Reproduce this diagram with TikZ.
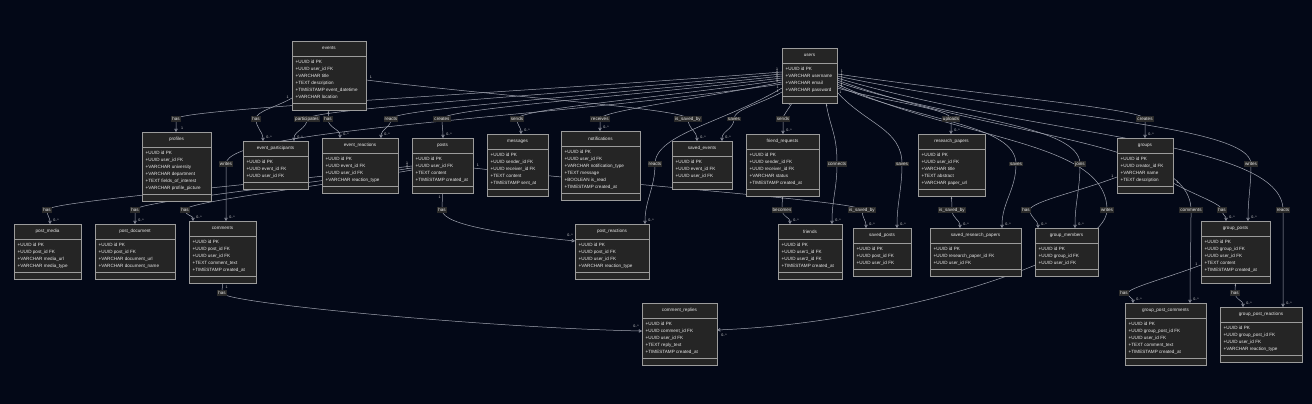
\documentclass[tikz,border=0pt]{standalone}
\usepackage{fontspec}
\setmainfont{Liberation Sans}
\usetikzlibrary{arrows.meta,calc}
\pgfdeclarelayer{bglayer}
\pgfdeclarelayer{edgelayer}
\pgfsetlayers{bglayer,edgelayer,main}
\definecolor{bgcol}{HTML}{030817}
\definecolor{boxfill}{HTML}{252525}
\definecolor{boxline}{HTML}{9C9C9C}
\definecolor{edgecol}{HTML}{A2A6B2}
\definecolor{txt}{HTML}{E8E8E8}
\definecolor{lblfill}{HTML}{2A2A2A}
\definecolor{cardcol}{HTML}{D0D0D0}
\tikzset{
  entbox/.style={draw=boxline, fill=boxfill, line width=0.7pt, inner sep=0pt, outer sep=0pt},
  sepline/.style={draw=boxline, line width=0.7pt},
  etitle/.style={text=txt, font=\fontsize{4.6}{5.5}\selectfont, inner sep=0pt},
  erow/.style={text=txt, font=\fontsize{4.6}{5.5}\selectfont, inner sep=0pt},
  edge/.style={draw=edgecol, line width=0.5pt, -{Triangle[open, length=3.2pt, width=3.4pt]}},
  lbl/.style={fill=lblfill, text=txt, font=\fontsize{4.6}{5.5}\selectfont, inner sep=1pt},
  card/.style={text=cardcol, font=\fontsize{3.6}{4}\selectfont, inner sep=0pt},
}
% #1 name, #2 x1, #3 top, #4 x2, #5 rows count, #6 title, #7 rows
\newcommand\mkent[7]{%
  \pgfmathsetmacro\entW{#4-#2}%
  \pgfmathsetmacro\entH{27+7*#5}%
  \node[entbox, minimum width=\entW pt, minimum height=\entH pt, anchor=north west] (#1) at (#2,#3) {};
  \draw[sepline] ([yshift=-15pt]#1.north west) -- ([yshift=-15pt]#1.north east);
  \draw[sepline] ([yshift=7pt]#1.south west) -- ([yshift=7pt]#1.south east);
  \node[etitle] (#1-title) at ([yshift=-7.5pt]#1.north) {#6};
  \foreach \r [count=\i from 0] in {#7} {
    \node[erow, anchor=base west] (#1-row\i) at ([xshift=3.5pt,yshift={-(22.2+7*\i)*1pt}]#1.north west) {\r};
  }
}
% #1 id, #2 start, #3 target, #4 bend, #5 target card
\newcommand\edgeV[5]{%
  \draw[edge] #2 .. controls ($#2!0.45!(l#1)$) and ($(l#1)+(0,#4)$) .. (l#1) to[out=270,in=90] #3;
  \node[card] (cs#1) at ($#2!5pt!(l#1)+(0,3)$) {1};
  \node[card] (ct#1) at ($#3+(6,4)$) {#5};
}
\begin{document}
\begin{tikzpicture}[x=1pt,y=1pt]
\useasboundingbox (0,0) rectangle (1312,404);
\begin{pgfonlayer}{bglayer}
\fill[bgcol] (0,0) rectangle (1312,404);
\end{pgfonlayer}

\mkent{events}{292}{363}{366}{6}{events}{+UUID id PK,+UUID user\_id FK,+VARCHAR title,+TEXT description,+TIMESTAMP event\_datetime,+VARCHAR location}
\mkent{users}{782}{356}{837}{4}{users}{+UUID id PK,+VARCHAR username,+VARCHAR email,+VARCHAR password}
\mkent{profiles}{142}{272}{211}{6}{profiles}{+UUID id PK,+UUID user\_id FK,+VARCHAR university,+VARCHAR department,+TEXT fields\_of\_interest,+VARCHAR profile\_picture}
\mkent{eventpart}{243}{263}{308}{3}{event\_participants}{+UUID id PK,+UUID event\_id FK,+UUID user\_id FK}
\mkent{eventreact}{322}{266}{398}{4}{event\_reactions}{+UUID id PK,+UUID event\_id FK,+UUID user\_id FK,+VARCHAR reaction\_type}
\mkent{posts}{412}{266}{473}{4}{posts}{+UUID id PK,+UUID user\_id FK,+TEXT content,+TIMESTAMP created\_at}
\mkent{messages}{487}{270}{548}{5}{messages}{+UUID id PK,+UUID sender\_id FK,+UUID receiver\_id FK,+TEXT content,+TIMESTAMP sent\_at}
\mkent{notif}{561}{273}{640}{6}{notifications}{+UUID id PK,+UUID user\_id FK,+VARCHAR notification\_type,+TEXT message,+BOOLEAN is\_read,+TIMESTAMP created\_at}
\mkent{savedevents}{672}{263}{732}{3}{saved\_events}{+UUID id PK,+UUID event\_id FK,+UUID user\_id FK}
\mkent{friendreq}{746}{270}{819}{5}{friend\_requests}{+UUID id PK,+UUID sender\_id FK,+UUID receiver\_id FK,+VARCHAR status,+TIMESTAMP created\_at}
\mkent{research}{918}{270}{985}{5}{research\_papers}{+UUID id PK,+UUID user\_id FK,+VARCHAR title,+TEXT abstract,+VARCHAR paper\_url}
\mkent{groups}{1117}{266}{1173}{4}{groups}{+UUID id PK,+UUID creator\_id FK,+VARCHAR name,+TEXT description}
\mkent{postmedia}{14}{180}{81}{4}{post\_media}{+UUID id PK,+UUID post\_id FK,+VARCHAR media\_url,+VARCHAR media\_type}
\mkent{postdoc}{95}{180}{175}{4}{post\_document}{+UUID id PK,+UUID post\_id FK,+VARCHAR document\_url,+VARCHAR document\_name}
\mkent{comments}{189}{183}{256}{5}{comments}{+UUID id PK,+UUID post\_id FK,+UUID user\_id FK,+TEXT comment\_text,+TIMESTAMP created\_at}
\mkent{postreact}{575}{180}{649}{4}{post\_reactions}{+UUID id PK,+UUID post\_id FK,+UUID user\_id FK,+VARCHAR reaction\_type}
\mkent{friends}{778}{180}{842}{4}{friends}{+UUID id PK,+UUID user1\_id FK,+UUID user2\_id FK,+TIMESTAMP created\_at}
\mkent{savedposts}{853}{176}{911}{3}{saved\_posts}{+UUID id PK,+UUID post\_id FK,+UUID user\_id FK}
\mkent{savedrp}{930}{176}{1021}{3}{saved\_research\_papers}{+UUID id PK,+UUID research\_paper\_id FK,+UUID user\_id FK}
\mkent{groupmem}{1035}{176}{1098}{3}{group\_members}{+UUID id PK,+UUID group\_id FK,+UUID user\_id FK}
\mkent{groupposts}{1201}{183}{1270}{5}{group\_posts}{+UUID id PK,+UUID group\_id FK,+UUID user\_id FK,+TEXT content,+TIMESTAMP created\_at}
\mkent{commentrep}{642}{101}{717}{5}{comment\_replies}{+UUID id PK,+UUID comment\_id FK,+UUID user\_id FK,+TEXT reply\_text,+TIMESTAMP created\_at}
\mkent{gpcomm}{1125}{101}{1206}{5}{group\_post\_comments}{+UUID id PK,+UUID group\_post\_id FK,+UUID user\_id FK,+TEXT comment\_text,+TIMESTAMP created\_at}
\mkent{gpreact}{1220}{97}{1302}{4}{group\_post\_reactions}{+UUID id PK,+UUID group\_post\_id FK,+UUID user\_id FK,+VARCHAR reaction\_type}

% label points
\coordinate (l1) at (176,285);
\coordinate (l2) at (256,285);
\coordinate (l3) at (307,285);
\coordinate (l4) at (328,285);
\coordinate (l5) at (391,285);
\coordinate (l6) at (442,285);
\coordinate (l7) at (517,285);
\coordinate (l8) at (600,285);
\coordinate (l9) at (688,285);
\coordinate (l10) at (734,285);
\coordinate (l11) at (783,285);
\coordinate (l12) at (951,285);
\coordinate (l13) at (1145,285);
\coordinate (l14) at (226,240);
\coordinate (l15) at (655,240);
\coordinate (l16) at (837,240);
\coordinate (l17) at (902,240);
\coordinate (l18) at (1016,240);
\coordinate (l19) at (1080,240);
\coordinate (l20) at (1251,240);
\coordinate (l21) at (47,194);
\coordinate (l22) at (135,194);
\coordinate (l23) at (185,194);
\coordinate (l24) at (442,194);
\coordinate (l25) at (782,194);
\coordinate (l26) at (862,194);
\coordinate (l27) at (952,194);
\coordinate (l28) at (1030,194);
\coordinate (l29) at (1107,194);
\coordinate (l30) at (1191,194);
\coordinate (l31) at (1222,194);
\coordinate (l32) at (1283,194);
\coordinate (l33) at (222,111);
\coordinate (l34) at (1128,111);
\coordinate (l35) at (1235,111);

\begin{pgfonlayer}{edgelayer}
\edgeV{1}{([yshift=3.5pt]users.west)}{([xshift=-0.5pt]profiles.north)}{10}{1}
\edgeV{3}{([yshift=1.5pt]users.west)}{([xshift=18.5pt]eventpart.north)}{10}{0..*}
\edgeV{5}{([yshift=-0.5pt]users.west)}{([xshift=21pt]eventreact.north)}{10}{0..*}
\edgeV{6}{([yshift=-2.5pt]users.west)}{([xshift=0.5pt]posts.north)}{10}{0..*}
\edgeV{7}{([yshift=-4.5pt]users.west)}{([xshift=3.5pt]messages.north)}{10}{0..*}
\edgeV{8}{([yshift=-6.5pt]users.west)}{([xshift=-0.5pt]notif.north)}{8}{0..*}
\edgeV{14}{([yshift=-8.5pt]users.west)}{([xshift=3.5pt]comments.north)}{35}{0..*}
\edgeV{15}{([yshift=-12.5pt]users.west)}{([xshift=33pt]postreact.north)}{30}{0..*}
\edgeV{10}{([yshift=-16.5pt]users.west)}{([xshift=20pt]savedevents.north)}{10}{0..*}
\edgeV{11}{([xshift=10pt]users.south west)}{([xshift=0.5pt]friendreq.north)}{4}{0..*}
\edgeV{13}{([yshift=1.5pt]users.east)}{(groups.north)}{10}{0..*}
\edgeV{20}{([yshift=-0.5pt]users.east)}{([xshift=12.5pt]groupposts.north)}{40}{0..*}
\edgeV{32}{([yshift=-2.5pt]users.east)}{([xshift=22pt]gpreact.north)}{70}{0..*}
\edgeV{30}{([yshift=-4.5pt]users.east)}{([xshift=24.5pt]gpcomm.north)}{70}{0..*}
\edgeV{19}{([yshift=-6.5pt]users.east)}{([xshift=8.5pt]groupmem.north)}{40}{0..*}
\edgeV{18}{([yshift=-10.5pt]users.east)}{([xshift=26.5pt]savedrp.north)}{40}{0..*}
\edgeV{12}{([yshift=-12.5pt]users.east)}{([xshift=-0.5pt]research.north)}{10}{0..*}
\edgeV{17}{([yshift=-16.5pt]users.east)}{([xshift=15pt]savedposts.north)}{35}{0..*}
\edgeV{16}{([xshift=-11pt]users.south east)}{([xshift=22pt]friends.north)}{30}{0..*}
\edgeV{2}{([yshift=-22.5pt]events.west)}{([xshift=-12.5pt]eventpart.north)}{8}{0..*}
\edgeV{4}{(events.south)}{([xshift=-20pt]eventreact.north)}{4}{0..*}
\edgeV{9}{([yshift=-4.5pt]events.east)}{([xshift=-5pt]savedevents.north)}{10}{0..*}
\edgeV{21}{([yshift=-0.5pt]posts.west)}{([xshift=2.5pt]postmedia.north)}{8}{0..*}
\edgeV{22}{([yshift=-2.5pt]posts.west)}{(postdoc.north)}{8}{0..*}
\edgeV{23}{([yshift=-4.5pt]posts.west)}{([xshift=-29.5pt]comments.north)}{8}{0..*}
\edgeV{26}{([yshift=-2.5pt]posts.east)}{([xshift=-16pt]savedposts.north)}{8}{0..*}
\edgeV{25}{(friendreq.south)}{([xshift=-20pt]friends.north)}{4}{0..*}
\edgeV{27}{(research.south)}{([xshift=-15.5pt]savedrp.north)}{4}{0..*}
\edgeV{28}{([yshift=-11.5pt]groups.west)}{([xshift=-28.5pt]groupmem.north)}{8}{0..*}
\edgeV{31}{([yshift=-17.5pt]groups.east)}{([xshift=-9.5pt]groupposts.north)}{6}{0..*}
\edgeV{34}{([yshift=-13pt]groupposts.west)}{([xshift=-32.5pt]gpcomm.north)}{5}{0..*}
\edgeV{35}{(groupposts.south)}{([xshift=-18pt]gpreact.north)}{4}{0..*}
% special routes
\draw[edge] (posts.south) -- (l24) .. controls ($(l24)+(0,-16)$) and ($([yshift=10.5pt]postreact.west)+(-60,6)$) .. ([yshift=10.5pt]postreact.west);
\node[card] (cs24) at ($(posts.south)+(-3,-4)$) {1};
\node[card] (ct24) at ($([yshift=10.5pt]postreact.west)+(-5,6)$) {0..*};
\draw[edge] ([yshift=-8.5pt]users.east) .. controls ($([yshift=-8.5pt]users.east)!0.45!(l29)$) and ($(l29)+(0,70)$) .. (l29) .. controls ($(l29)+(0,-45)$) and ($([yshift=4pt]commentrep.east)+(190,8)$) .. ([yshift=4pt]commentrep.east);
\node[card] (cs29) at ($([yshift=-8.5pt]users.east)!5pt!(l29)+(0,3)$) {1};
\node[card] (ct29) at ($([yshift=4pt]commentrep.east)+(7,-5)$) {0..*};
\draw[edge] (comments.south) -- (l33) .. controls ($(l33)+(0,-10)$) and ($([yshift=3pt]commentrep.west)+(-150,3)$) .. ([yshift=3pt]commentrep.west);
\node[card] (cs33) at ($(comments.south)+(4,-4)$) {1};
\node[card] (ct33) at ($([yshift=3pt]commentrep.west)+(-6,5)$) {0..*};
\end{pgfonlayer}

% relationship labels
\node[lbl] (lab1) at (l1) {has};
\node[lbl] (lab2) at (l2) {has};
\node[lbl] (lab3) at (l3) {participates};
\node[lbl] (lab4) at (l4) {has};
\node[lbl] (lab5) at (l5) {reacts};
\node[lbl] (lab6) at (l6) {creates};
\node[lbl] (lab7) at (l7) {sends};
\node[lbl] (lab8) at (l8) {receives};
\node[lbl] (lab9) at (l9) {is\_saved\_by};
\node[lbl] (lab10) at (l10) {saves};
\node[lbl] (lab11) at (l11) {sends};
\node[lbl] (lab12) at (l12) {uploads};
\node[lbl] (lab13) at (l13) {creates};
\node[lbl] (lab14) at (l14) {writes};
\node[lbl] (lab15) at (l15) {reacts};
\node[lbl] (lab16) at (l16) {connects};
\node[lbl] (lab17) at (l17) {saves};
\node[lbl] (lab18) at (l18) {saves};
\node[lbl] (lab19) at (l19) {joins};
\node[lbl] (lab20) at (l20) {writes};
\node[lbl] (lab21) at (l21) {has};
\node[lbl] (lab22) at (l22) {has};
\node[lbl] (lab23) at (l23) {has};
\node[lbl] (lab24) at (l24) {has};
\node[lbl] (lab25) at (l25) {becomes};
\node[lbl] (lab26) at (l26) {is\_saved\_by};
\node[lbl] (lab27) at (l27) {is\_saved\_by};
\node[lbl] (lab28) at ([xshift=-4pt]l28) {has};
\node[lbl] (lab29) at (l29) {writes};
\node[lbl] (lab30) at (l30) {comments};
\node[lbl] (lab31) at (l31) {has};
\node[lbl] (lab32) at (l32) {reacts};
\node[lbl] (lab33) at (l33) {has};
\node[lbl] (lab34) at ([xshift=-4pt]l34) {has};
\node[lbl] (lab35) at (l35) {has};
\end{tikzpicture}
\end{document}
